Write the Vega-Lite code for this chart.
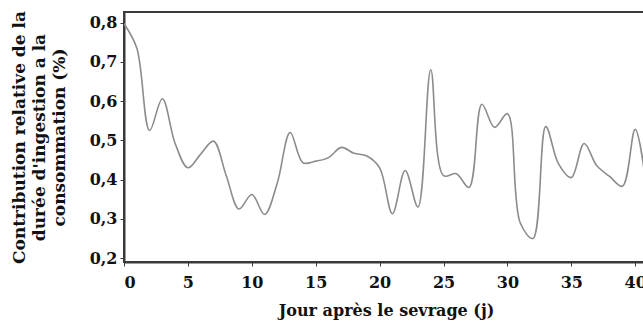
{
  "$schema": "https://vega.github.io/schema/vega-lite/v6.json",
  "autosize": {"type": "none"},
  "padding": {"left": 124, "top": 12, "right": 0, "bottom": 62},
  "width": 524,
  "height": 250,
  "background": "white",
  "config": {
    "view": {"stroke": "#3a3a3a", "strokeWidth": 2},
    "font": "DejaVu Serif"
  },
  "data": {
    "values": [
      {"jour": 0, "contribution": 0.797},
      {"jour": 1, "contribution": 0.735},
      {"jour": 2, "contribution": 0.525},
      {"jour": 3, "contribution": 0.606},
      {"jour": 4, "contribution": 0.492},
      {"jour": 5, "contribution": 0.43},
      {"jour": 6, "contribution": 0.465},
      {"jour": 7, "contribution": 0.498},
      {"jour": 8, "contribution": 0.41},
      {"jour": 9, "contribution": 0.325},
      {"jour": 10, "contribution": 0.362},
      {"jour": 11, "contribution": 0.311},
      {"jour": 12, "contribution": 0.392},
      {"jour": 13, "contribution": 0.52},
      {"jour": 14, "contribution": 0.443},
      {"jour": 15, "contribution": 0.447},
      {"jour": 16, "contribution": 0.456},
      {"jour": 17, "contribution": 0.482},
      {"jour": 18, "contribution": 0.467},
      {"jour": 19, "contribution": 0.46},
      {"jour": 20, "contribution": 0.43},
      {"jour": 21, "contribution": 0.313},
      {"jour": 22, "contribution": 0.423},
      {"jour": 23, "contribution": 0.33},
      {"jour": 24, "contribution": 0.68},
      {"jour": 25, "contribution": 0.41},
      {"jour": 26, "contribution": 0.415},
      {"jour": 27, "contribution": 0.38},
      {"jour": 28, "contribution": 0.592},
      {"jour": 29, "contribution": 0.533},
      {"jour": 30, "contribution": 0.568},
      {"jour": 31, "contribution": 0.29},
      {"jour": 32, "contribution": 0.25},
      {"jour": 33, "contribution": 0.535},
      {"jour": 34, "contribution": 0.44},
      {"jour": 35, "contribution": 0.405},
      {"jour": 36, "contribution": 0.492},
      {"jour": 37, "contribution": 0.435},
      {"jour": 38, "contribution": 0.408},
      {"jour": 39, "contribution": 0.383},
      {"jour": 40, "contribution": 0.528},
      {"jour": 41, "contribution": 0.35}
    ]
  },
  "mark": {"type": "line", "interpolate": "catmull-rom", "color": "#8c8c8c", "strokeWidth": 1.6, "clip": true},
  "encoding": {
    "x": {
      "field": "jour",
      "type": "quantitative",
      "scale": {"domain": [0, 41], "nice": false, "zero": false},
      "axis": {
        "values": [0, 5, 10, 15, 20, 25, 30, 35, 40],
        "grid": false,
        "domainColor": "#3a3a3a",
        "domainWidth": 2,
        "tickColor": "#3a3a3a",
        "tickSize": 4,
        "labelFont": "DejaVu Serif",
        "labelFontWeight": "bold",
        "labelFontSize": 16,
        "labelColor": "#111111",
        "labelPadding": 8,
        "title": "Jour après le sevrage (j)",
        "titleFont": "DejaVu Serif",
        "titleFontWeight": "bold",
        "titleFontSize": 16,
        "titleColor": "#111111",
        "titlePadding": 12
      }
    },
    "y": {
      "field": "contribution",
      "type": "quantitative",
      "scale": {"domain": [0.19, 0.827], "nice": false, "zero": false},
      "axis": {
        "values": [0.2, 0.3, 0.4, 0.5, 0.6, 0.7, 0.8],
        "labelExpr": "replace(format(datum.value, '.1f'), '.', ',')",
        "grid": false,
        "domainColor": "#3a3a3a",
        "domainWidth": 2,
        "tickColor": "#3a3a3a",
        "tickSize": 4,
        "labelFont": "DejaVu Serif",
        "labelFontWeight": "bold",
        "labelFontSize": 16,
        "labelColor": "#111111",
        "labelPadding": 3,
        "title": ["Contribution relative de la", "durée d'ingestion a la", "consommation (%)"],
        "titleFont": "DejaVu Serif",
        "titleFontWeight": "bold",
        "titleFontSize": 17,
        "titleLineHeight": 20,
        "titleColor": "#111111",
        "titlePadding": 21
      }
    }
  }
}
